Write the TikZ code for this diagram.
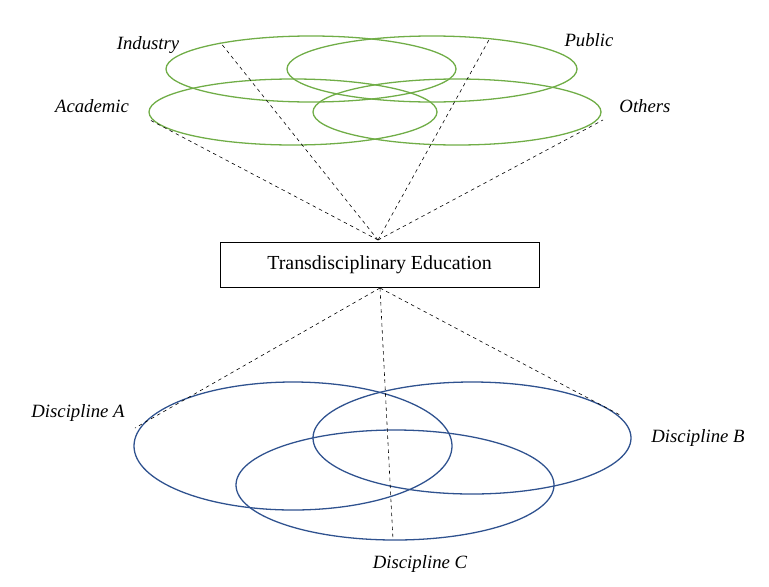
\documentclass[tikz,border=0pt]{standalone}
\usepackage{fontspec}
\setmainfont{Liberation Serif}
\usetikzlibrary{calc}

\definecolor{leafgreen}{RGB}{112,173,71}
\definecolor{inkblue}{RGB}{47,82,143}

\begin{document}
\begin{tikzpicture}[x=0.03cm,y=-0.03cm,
    group/.style={draw=leafgreen,line width=1.1pt},
    field/.style={draw=inkblue,line width=1.1pt},
    tag/.style={font=\fontsize{16}{19}\selectfont\itshape},
    link/.style={dashed,line width=0.5pt}]

    \useasboundingbox (0,0) rectangle (769,586);

    % stakeholder groups
    \draw[group] (311,69)  ellipse (145 and 33);
    \draw[group] (432,69)  ellipse (145 and 33);
    \draw[group] (293,112) ellipse (144 and 33);
    \draw[group] (457,112) ellipse (144 and 33);

    \node[tag] (Industry) at (148,45)  {Industry};
    \node[tag] (Public)   at (589,40)  {Public};
    \node[tag] (Academic) at (92,106)  {Academic};
    \node[tag] (Others)   at (645,106) {Others};

    % disciplines
    \draw[field] (293,446) ellipse (159 and 64);
    \draw[field] (472,438) ellipse (159 and 56);
    \draw[field] (395,485) ellipse (159 and 55);

    \node[tag] (Discipline A) at (78,413)  {Discipline A};
    \node[tag] (Discipline B) at (698,438) {Discipline B};
    \node[tag] (Discipline C) at (420,564) {Discipline C};

    % centre box
    \node[draw,fill=white,minimum width=319*0.03cm,minimum height=45*0.03cm,
          font=\fontsize{17}{20}\selectfont] (TE) at (379.5,264.5)
          {Transdisciplinary Education};

    \coordinate (top apex) at (378,240);
    \coordinate (bottom apex) at (380,288);

    \coordinate (Industry end) at (220,42);
    \coordinate (Public end)   at (490,38);
    \coordinate (Academic end) at (150,120);
    \coordinate (Others end)   at (603,120);
    \coordinate (A end) at (135,428);
    \coordinate (B end) at (620,415);
    \coordinate (C end) at (393,540);

    \foreach \e in {Industry end,Public end,Academic end,Others end}
        \draw[link] (top apex) -- (\e);
    \foreach \e in {A end,B end,C end}
        \draw[link] (bottom apex) -- (\e);
\end{tikzpicture}
\end{document}
